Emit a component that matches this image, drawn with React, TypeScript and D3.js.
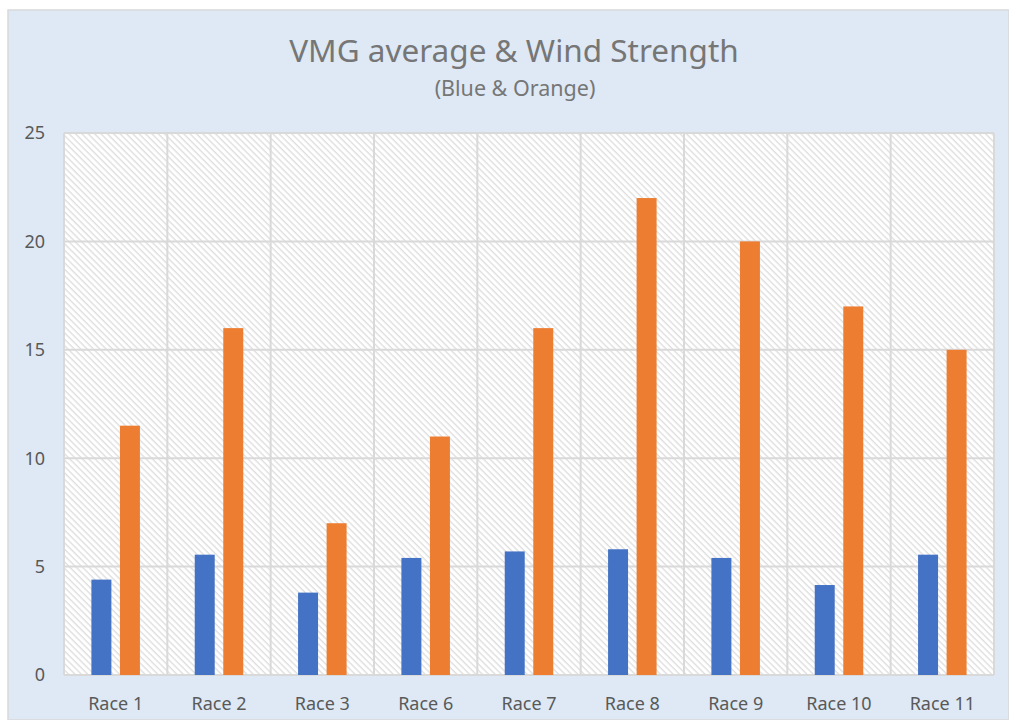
import React from "react";
import * as d3 from "d3";

const categories = ["Race 1", "Race 2", "Race 3", "Race 6", "Race 7", "Race 8", "Race 9", "Race 10", "Race 11"];
const vmgAverage = [4.4, 5.55, 3.8, 5.4, 5.7, 5.8, 5.4, 4.15, 5.55];
const windStrength = [11.5, 16, 7, 11, 16, 22, 20, 17, 15];
const yTicks = [0, 5, 10, 15, 20, 25];
const seriesKeys = ["vmg", "wind"];
const seriesColors = ["#4472C4", "#ED7D31"];

const W = 1009;
const H = 720;
const plot = { left: 64, right: 994, top: 133, bottom: 675 };
const FONT = "'Noto Sans', 'Open Sans', sans-serif";

export default function App() {
  const x0 = d3.scaleBand<string>().domain(categories).range([plot.left, plot.right]);
  const x1 = d3
    .scaleBand<string>()
    .domain(seriesKeys)
    .range([0, x0.bandwidth()])
    .paddingInner(0.3)
    .paddingOuter(0.96);
  const y = d3.scaleLinear().domain([0, 25]).range([plot.bottom, plot.top]);
  const values = [vmgAverage, windStrength];
  const boundaries = categories.map((c) => x0(c)!).concat([plot.right]);

  return (
    <svg
      width={W}
      height={H}
      style={{ position: "absolute", left: 0, top: 0, display: "block" }}
    >
      <defs>
        <pattern id="hatch" width="4.5" height="4.5" patternUnits="userSpaceOnUse" patternTransform="rotate(45)">
          <rect width="4.5" height="4.5" fill="#ffffff" />
          <line x1="0" y1="0.5" x2="4.5" y2="0.5" stroke="#dedede" strokeWidth="1.7" />
        </pattern>
      </defs>
      <rect x={0} y={0} width={W} height={H} fill="#ffffff" />
      <rect x={8} y={10} width={W - 8} height={H - 10} fill="#dee9f5" stroke="#d9d9d9" strokeWidth={1.5} />
      <text x={514} y={62} textAnchor="middle" fontFamily={FONT} fontSize={31.5} fill="#767676">
        VMG average &amp; Wind Strength
      </text>
      <text x={515} y={96} textAnchor="middle" fontFamily={FONT} fontSize={21.5} fill="#767676">
        (Blue &amp; Orange)
      </text>
      <rect
        x={plot.left}
        y={plot.top}
        width={plot.right - plot.left}
        height={plot.bottom - plot.top}
        fill="url(#hatch)"
      />
      {yTicks.map((t) => (
        <line key={"h" + t} x1={plot.left} x2={plot.right} y1={y(t)} y2={y(t)} stroke="#d9d9d9" strokeWidth={2} />
      ))}
      {boundaries.map((bx, i) => (
        <line key={"v" + i} x1={bx} x2={bx} y1={plot.top} y2={plot.bottom} stroke="#d9d9d9" strokeWidth={2} />
      ))}
      {categories.map((c, i) => (
        <g key={c} transform={`translate(${x0(c)},0)`}>
          {seriesKeys.map((k, j) => (
            <rect
              key={k}
              x={x1(k)}
              y={y(values[j][i])}
              width={x1.bandwidth()}
              height={y(0) - y(values[j][i])}
              fill={seriesColors[j]}
            />
          ))}
        </g>
      ))}
      {yTicks.map((t) => (
        <text
          key={"yl" + t}
          x={45}
          y={y(t)}
          dy="0.35em"
          textAnchor="end"
          fontFamily={FONT}
          fontSize={18}
          fill="#595959"
        >
          {t}
        </text>
      ))}
      {categories.map((c) => (
        <text
          key={"xl" + c}
          x={x0(c)! + x0.bandwidth() / 2}
          y={710}
          textAnchor="middle"
          fontFamily={FONT}
          fontSize={18}
          fill="#595959"
        >
          {c}
        </text>
      ))}
    </svg>
  );
}
